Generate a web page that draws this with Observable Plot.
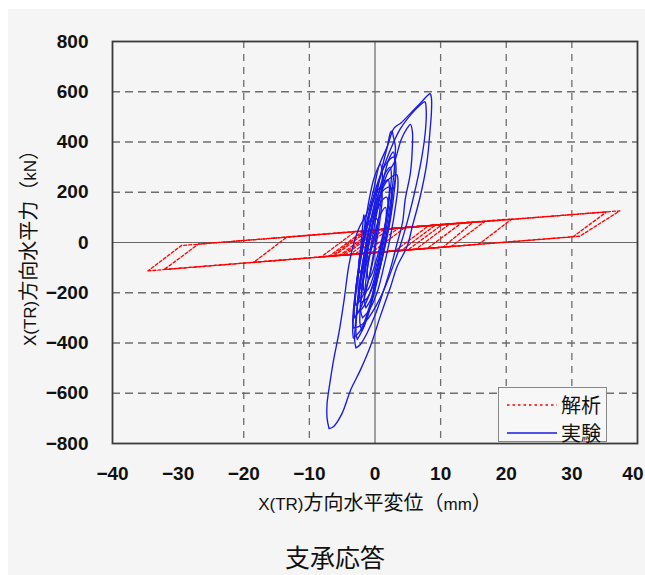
<!DOCTYPE html>
<html><head><meta charset="utf-8">
<script src="https://cdn.jsdelivr.net/npm/d3@7"></script>
<script src="https://cdn.jsdelivr.net/npm/@observablehq/plot@0.6"></script>
<style>
  html,body{margin:0;padding:0;background:#ffffff;}
  #wrap{position:absolute;left:8px;top:9px;width:637px;height:566px;background:#f5f5f5;overflow:hidden;}
  .lbl{position:absolute;white-space:nowrap;font-family:"Noto Sans CJK JP","Liberation Sans",sans-serif;color:#111;line-height:1;}
  .lat{font-family:"Liberation Sans",Arial,sans-serif;font-size:17px;}
  #legend{position:absolute;left:490px;top:378px;width:109px;height:55px;border:1px solid #888;background:#f7f7f7;box-sizing:border-box;}
</style></head>
<body>
<div id="wrap">
  <div id="chart"></div>
  <div class="lbl" id="ylab" style="left:20px;top:234px;font-size:20px;transform:translate(-50%,-50%) rotate(-90deg);"><span class="lat">X(TR)</span>方向水平力（<span class="lat">kN</span>）</div>
  <div class="lbl" id="xlab" style="left:367px;top:493px;font-size:20px;transform:translate(-50%,-50%);"><span class="lat">X(TR)</span>方向水平変位（<span class="lat">mm</span>）</div>
  <div class="lbl" id="title" style="left:327px;top:547px;font-size:25px;transform:translate(-50%,-50%);">支承応答</div>
  <div id="legend">
    <svg width="60" height="55" style="position:absolute;left:0;top:0;">
      <line x1="8" x2="58" y1="17" y2="17" stroke="#ff0000" stroke-width="1.3" stroke-dasharray="2.5,3"/>
      <line x1="8" x2="58" y1="45" y2="45" stroke="#1a1ae6" stroke-width="1.4"/>
    </svg>
    <div class="lbl" style="left:62px;top:17px;font-size:20px;transform:translateY(-50%);">解析</div>
    <div class="lbl" style="left:62px;top:45px;font-size:20px;transform:translateY(-50%);">実験</div>
  </div>
</div>
<script>
// ---- axis ticks & grid ----
const xTicks = [-40, -30, -20, -10, 0, 10, 20, 30];
const xTickLast = [40];
const yTicks = [-800, -600, -400, -200, 0, 200, 400, 600, 800];
const xGrid = [-20, -10, 10, 20, 30];
const yGrid = [-600, -400, -200, 200, 400, 600];

// ---- 解析 (analysis) loops: [displacement mm, force kN] ----
const redLoopA = [[-34.6,-113],[31.2,25],[37.3,126],[-29.5,-12],[-34.6,-113]];
const redLoopB = [[-32.1,-107],[30.2,23],[35.3,122],[-26.9,-6],[-32.1,-107]];
const redLoopC = [[-18.5,-79],[15.8,-7],[20.9,94],[-13.4,22],[-18.5,-79]];
const redLoopD = [[-8.2,-57],[11.6,-16],[16.8,85],[-3.0,44],[-8.2,-57]];
const redLoopE = [[-7.0,-55],[8.0,-23],[13.2,78],[-1.8,46],[-7.0,-55]];
const redLoopF = [[-6.2,-53],[6.2,-27],[11.4,74],[-1.0,48],[-6.2,-53]];
const redLoopG = [[-5.4,-51],[5.0,-30],[10.2,71],[-0.2,50],[-5.4,-51]];
const redLoopH = [[-4.6,-50],[4.0,-32],[9.2,69],[0.6,51],[-4.6,-50]];
const redLoopI = [[-3.8,-48],[-0.6,-41],[4.6,60],[1.4,53],[-3.8,-48]];
const redLoopJ = [[-3.0,-46],[-1.6,-43],[3.6,58],[2.2,55],[-3.0,-46]];
const redLoopK = [[-6.6,-54],[3.0,-34],[8.2,67],[-1.4,47],[-6.6,-54]];
const redLoopL = [[-5.0,-50],[10.4,-18],[15.0,82],[0.2,50],[-5.0,-50]];

// ---- 実験 (experiment) loops: [displacement mm, force kN] ----
const blueOuter = [[-7.0,-741],[-7.3,-700],[-7.3,-640],[-7.1,-598],[-6.7,-530],[-6.3,-466],[-5.5,-360],[-4.7,-227],[-4.0,-94],[-3.2,0],[-2.4,60],[-1.2,118],[-0.2,211],[0.6,304],[1.9,384],[2.9,455],[4.0,477],[5.5,517],[7.0,557],[8.0,585],[8.4,592],
  [8.6,575],[8.6,520],[8.4,450],[7.9,317],[6.9,184],[5.7,65],[4.9,-15],[3.4,-94],[2.4,-174],[0.8,-294],[-0.7,-413],[-2.2,-506],[-3.7,-586],[-5.0,-679],[-6.3,-732],[-7.0,-741]];
const blueLoop2 = [[-2.9,-420],[-3.1,-390],[-2.9,-300],[-2.3,-180],[-1.5,-60],[-0.5,60],[0.6,170],[1.8,270],[2.9,317],[4.0,410],[4.9,455],[5.4,470],
  [5.7,440],[5.7,384],[5.4,278],[4.6,171],[4.2,80],[3.4,0],[2.4,-100],[1.2,-200],[0.0,-290],[-1.2,-360],[-2.2,-405],[-2.9,-420]];
const blueLoop3 = [[-2.7,-386],[-2.9,-360],[-2.7,-260],[-2.2,-150],[-1.4,-30],[-0.6,90],[0.3,200],[1.1,300],[1.9,384],[2.4,440],[2.6,443],
  [2.8,420],[3.1,384],[3.0,300],[3.1,259],[2.7,200],[2.2,100],[1.5,0],[0.6,-120],[-0.4,-230],[-1.6,-330],[-2.7,-386]];
const blueLoop4 = [[-3.3,-340],[-3.4,-310],[-3.0,-200],[-2.3,-80],[-1.4,40],[-0.4,150],[0.8,260],[2.2,360],[3.8,450],[5.5,510],[6.8,545],[7.6,560],
  [7.8,530],[7.7,450],[7.2,350],[6.3,230],[5.2,110],[4.0,0],[2.8,-90],[1.5,-180],[0.2,-250],[-1.3,-310],[-2.5,-335],[-3.3,-340]];
const blueLoop5 = [[-3.1,-300],[-3.2,-270],[-2.9,-180],[-2.3,-60],[-1.6,60],[-0.9,170],[-0.1,260],[0.8,311],
  [1.1,280],[1.0,200],[0.5,80],[-0.2,-40],[-1.0,-150],[-2.0,-250],[-3.1,-300]];
const blueLoop6 = [[-2.6,-280],[-2.7,-250],[-2.3,-150],[-1.6,-40],[-0.8,70],[0.2,170],[1.2,230],[2.0,250],
  [2.2,220],[1.9,130],[1.3,30],[0.5,-80],[-0.5,-180],[-1.6,-250],[-2.6,-280]];
const blueLoop7 = [[-2.2,-240],[-2.4,-200],[-2.0,-100],[-1.3,0],[-0.4,100],[0.6,180],[1.6,215],[2.4,220],
  [2.6,190],[2.3,100],[1.6,0],[0.7,-100],[-0.4,-180],[-1.3,-225],[-2.2,-240]];
const blueLoop8 = [[-1.6,-200],[-1.8,-170],[-1.4,-80],[-0.7,20],[0.1,110],[1.0,165],[1.8,180],
  [2.0,150],[1.5,60],[0.7,-40],[-0.2,-130],[-1.0,-185],[-1.6,-200]];
const blueLoop9 = [[-1.0,-150],[-1.2,-120],[-0.7,-40],[0.0,40],[0.8,110],[1.6,140],
  [1.7,100],[1.1,20],[0.3,-60],[-0.4,-120],[-1.0,-150]];
const blueLoop10 = [[-2.0,-350],[-2.3,-320],[-2.1,-220],[-1.5,-100],[-0.8,20],[0.1,140],[1.0,240],[1.9,290],[2.3,300],
  [2.5,270],[2.2,180],[1.6,70],[0.8,-50],[-0.1,-170],[-1.0,-280],[-2.0,-350]];
const blueLoop11 = [[-2.5,-200],[-2.6,-170],[-2.4,-80],[-2.1,0],[-1.9,60],[-1.7,111],
  [-1.4,60],[-1.1,10],[-1.2,-60],[-1.7,-140],[-2.5,-200]];
const blueLoop12 = [[-3.3,-380],[-3.4,-350],[-3.1,-250],[-2.5,-120],[-1.7,0],[-0.8,120],[0.3,230],[1.6,310],[2.9,340],
  [3.2,300],[3.0,220],[2.4,100],[1.5,-20],[0.4,-140],[-0.9,-260],[-2.2,-350],[-3.3,-380]];
const blueLoop13 = [[-1.9,-300],[-2.2,-270],[-2.0,-180],[-1.4,-60],[-0.5,60],[0.5,160],[1.7,240],[3.3,270],
  [3.5,230],[3.1,140],[2.4,30],[1.4,-90],[0.3,-200],[-0.9,-270],[-1.9,-300]];
const blueLoop14 = [[-2.9,-250],[-3.0,-220],[-2.6,-120],[-1.9,-10],[-1.1,100],[-0.2,180],[0.9,220],
  [1.1,180],[0.7,80],[0.0,-30],[-0.9,-140],[-2.0,-220],[-2.9,-250]];
const blueLoop15 = [[-1.4,-260],[-1.6,-230],[-1.3,-130],[-0.6,-10],[0.3,120],[1.2,240],[2.1,330],[2.8,360],
  [3.0,330],[2.7,230],[2.0,100],[1.1,-30],[0.1,-160],[-0.7,-230],[-1.4,-260]];
const blueLoop16 = [[-2.4,-120],[-2.5,-90],[-2.0,-10],[-1.2,60],[-0.4,100],[0.4,90],
  [0.2,40],[-0.6,-30],[-1.4,-90],[-2.4,-120]];

const redLoops = [redLoopA, redLoopB, redLoopC, redLoopD, redLoopE, redLoopF, redLoopG, redLoopH, redLoopI, redLoopJ, redLoopK, redLoopL];
const blueLoops = [blueOuter, blueLoop2, blueLoop3, blueLoop4, blueLoop5, blueLoop6, blueLoop7, blueLoop8, blueLoop9, blueLoop10, blueLoop11, blueLoop12, blueLoop13, blueLoop14, blueLoop15, blueLoop16];

const toRows = (loops, tag) => loops.flatMap((loop, i) => loop.map(([x, y]) => ({x, y, loop: tag + i})));
const redRows = toRows(redLoops, "r");
const blueRows = toRows(blueLoops, "b");

const chart = Plot.plot({
  width: 637,
  height: 511,
  marginLeft: 104,
  marginRight: 8,
  marginTop: 32,
  marginBottom: 77,
  style: {background: "transparent", overflow: "visible", fontFamily: "'Liberation Sans', Arial, sans-serif", fontSize: "19px", color: "#111"},
  x: {domain: [-40, 40], label: null},
  y: {domain: [-800, 800], label: null},
  marks: [
    Plot.ruleX(xGrid, {stroke: "#6e6e6e", strokeWidth: 1.3, strokeDasharray: "7,6"}),
    Plot.ruleY(yGrid, {stroke: "#6e6e6e", strokeWidth: 1.3, strokeDasharray: "8,5"}),
    Plot.ruleX([0], {stroke: "#666", strokeWidth: 1.2}),
    Plot.ruleY([0], {stroke: "#666", strokeWidth: 1.2}),
    Plot.line(redRows, {x: "x", y: "y", z: "loop", stroke: "#ff0000", strokeWidth: 1.3, strokeDasharray: "3,2", curve: "linear"}),
    Plot.line(blueRows, {x: "x", y: "y", z: "loop", stroke: "#1a1ae6", strokeWidth: 1.35, curve: "catmull-rom"}),
    Plot.frame({stroke: "#3a3a3a", strokeWidth: 1.8}),
    Plot.axisX({ticks: xTicks, tickSize: 0, tickPadding: 23, label: null, fontWeight: "bold"}),
    Plot.axisX({ticks: xTickLast, tickSize: 0, tickPadding: 23, label: null, fontWeight: "bold", textAnchor: "end", dx: 6}),
    Plot.axisY({ticks: yTicks, tickSize: 0, tickPadding: 24, label: null, fontWeight: "bold"})
  ]
});
document.getElementById("chart").appendChild(chart);
</script>
</body></html>
